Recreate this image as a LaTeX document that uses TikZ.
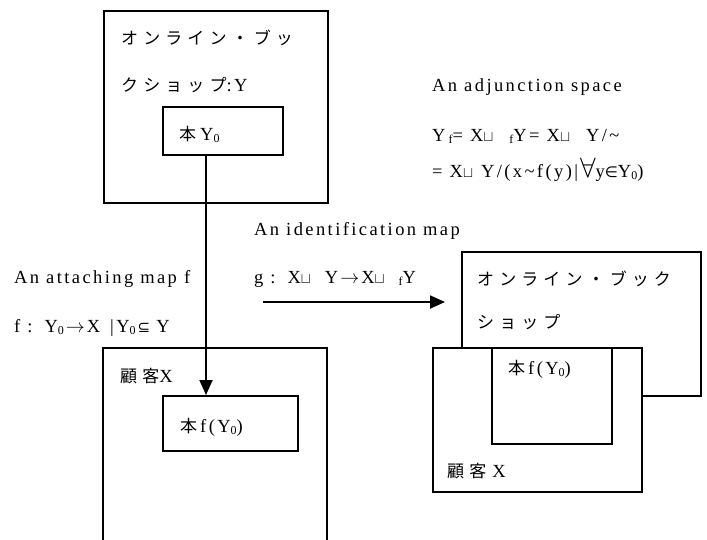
\RequirePackage{fix-cm}
\documentclass[tikz,border=0pt]{standalone}
\usepackage{fontspec}
\usetikzlibrary{arrows.meta}
\setmainfont{Liberation Serif}[LetterSpace=13]
\newfontfamily\jpfont{Noto Sans CJK JP}[LetterSpace=30]
\newfontfamily\symfont{DejaVu Sans}
% Japanese text, small lowered indices and the set symbols
\newcommand{\jp}[1]{{\jpfont\fontsize{17}{20}\selectfont #1}}
\newcommand{\lowr}[1]{\raisebox{-0.25ex}{\fontsize{12}{13}\selectfont #1}}
\newcommand{\dunion}{{\fontsize{15}{16}\selectfont$\sqcup$}}
\newcommand{\symb}[1]{{\symfont\fontsize{15}{16}\selectfont #1}}
\newcommand{\rarr}{\hspace{2pt}{\fontsize{19}{20}\selectfont$\rightarrow$}\hspace{2pt}}
\newcommand{\bigforall}{{\fontsize{28}{28}\selectfont$\forall$}}
\begin{document}
\begin{tikzpicture}[x=1pt, y=-1pt,
  box/.style={draw, line width=1.6pt, fill=white, inner sep=0pt, anchor=north west},
  txt/.style={anchor=base west, inner sep=0pt, font=\fontsize{18.5}{21}\selectfont},
  arr/.style={line width=1.8pt, -{Triangle[length=15pt, width=13pt]}}]
\useasboundingbox (0,0) rectangle (707,539);

% online book shop Y with the subspace Y_0
\node[box, minimum width=224pt, minimum height=192pt] (Y) at (103,10) {};
\node[box, minimum width=120pt, minimum height=48pt] (Y0) at (162,106) {};
\node[txt] (tY1) at (121,44) {\jp{オンライン・ブッ}};
\node[txt] (tY2) at (121,91) {\jp{クショップ}:Y};
\node[txt] (tY0) at (179,140) {\jp{本}\hspace{4pt}Y\lowr{0}};

% customer X, open at the bottom
\draw[line width=1.6pt] (103,545) |- (327,348) -- (327,545);
\node[box, minimum width=135pt, minimum height=55pt] (fY0) at (162,395) {};
\node[txt] (tX) at (120,382) {\jp{顧客}X};
\node[txt] (tfY0) at (180,432) {\jp{本}\hspace{3pt}f(Y\lowr{0})};

% attaching map
\coordinate (ax) at (206,0);
\draw[arr] (Y0.south -| ax) -- (fY0.north -| ax);
\node[txt] (tatt) at (14,283) {An attaching map f};
\node[txt] (tattf) at (14,332) {f :\hspace{12pt}Y\lowr{0}\rarr{}X\hspace{10pt}|Y\lowr{0}\hspace{2pt}\symb{⊆}\hspace{6pt}Y};

% adjunction space
\node[txt] (tadj) at (432,91) {An adjunction space};
\node[txt] (tadj1) at (432,141) {Y\,\lowr{f}= X\dunion{}\hspace{16pt}\lowr{f}Y= X\dunion{}\hspace{16pt}Y/\char`\~};
\node[txt] (tadj2) at (432,177) {= X\dunion{}\hspace{8pt}Y/(x\char`\~f(y)|\hspace{2pt}\bigforall{}y\symb{∈}Y\lowr{0})};

% identification map
\node[txt] (tid) at (254,235) {An identification map};
\node[txt] (tidg) at (254,283) {g :\hspace{12pt}X\dunion{}\hspace{14pt}Y\rarr{}X\dunion{}\hspace{14pt}\lowr{f}Y};
\coordinate (g0) at (263,302);
\coordinate (g1) at (445,302);
\draw[arr] (g0) -- (g1);

% the adjunction space X with Y attached
\node[box, minimum width=239pt, minimum height=144pt] (B) at (461,251) {};
\node[txt] (tB1) at (477,285) {\jp{オンライン・ブック}};
\node[txt] (tB2) at (477,328) {\jp{ショップ}};
\node[box, minimum width=209pt, minimum height=144pt] (F) at (432,347) {};
\node[box, minimum width=120pt, minimum height=96pt] (FY0) at (491,347) {};
\node[txt] (tF0) at (508,374) {\jp{本}\hspace{3pt}f(Y\lowr{0})};
\node[txt] (tFX) at (447,477) {\jp{顧客}\hspace{6pt}X};
\end{tikzpicture}
\end{document}
